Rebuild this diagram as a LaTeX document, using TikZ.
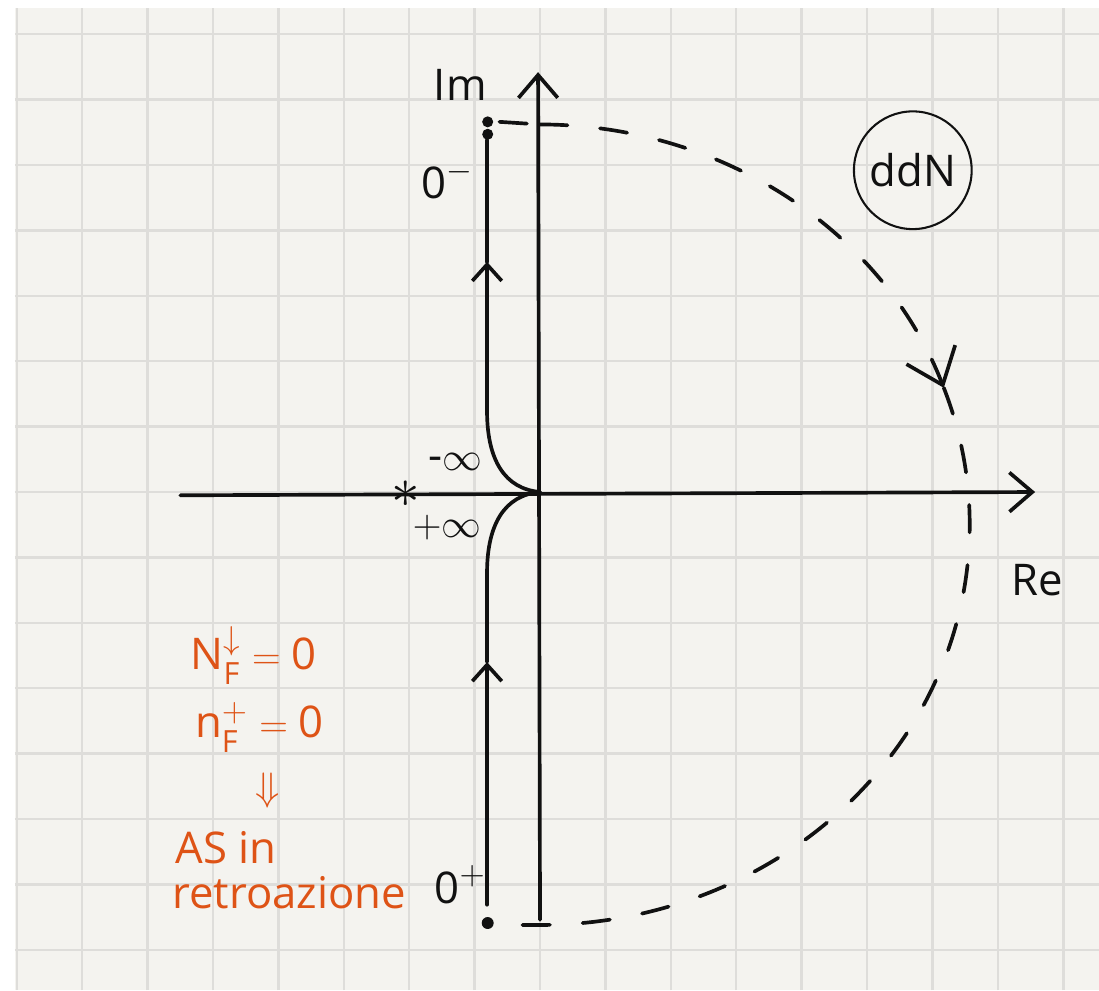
\documentclass[tikz,border=0pt]{standalone}
\usepackage{fontspec}
\setmainfont{Open Sans}
\usepackage{amsmath}
\usepackage{amssymb}
\usetikzlibrary{arrows.meta, calc}
\definecolor{paper}{HTML}{F4F3EF}
\definecolor{gridgrey}{HTML}{DEDDDA}
\definecolor{ink}{HTML}{111111}
\definecolor{rust}{HTML}{DE5316}
\tikzset{
  pen/.style={line width=1.6pt, ink, line cap=round, line join=round},
  dashpen/.style={pen, dash pattern=on 0.42cm off 0.5cm},
  axisarrow/.style={pen, -{Straight Barb[length=3.5mm, width=6mm]}},
  patharrow/.style={pen, -{Straight Barb[length=2.5mm, width=4.5mm]}},
  arcarrow/.style={dashpen, -{Straight Barb[length=5mm, width=8mm]}},
  lbl/.style={font=\fontsize{19}{21}\selectfont, text=ink, inner sep=1pt},
  note/.style={font=\fontsize{19}{21}\selectfont, text=rust, inner sep=0pt},
}

\begin{document}
\begin{tikzpicture}
\useasboundingbox (-8.257,-7.615) rectangle (8.547,7.523);
% squared paper
\fill[paper] (-8.03,-7.615) rectangle (8.547,7.40);
\draw[gridgrey, line width=1.1pt] (-8.03,-7.615) grid (8.547,7.40);

% axes
\coordinate (O) at (0,0);
\coordinate (reL) at (-5.5,-0.05);
\coordinate (reR) at (7.57,0);
\coordinate (imB) at (0,-6.54);
\coordinate (imT) at (-0.03,6.42);
\draw[axisarrow] (reL) -- (reR);
\draw[axisarrow] (imB) -- (imT);
\node[lbl] (imlbl) at (-1.22,6.22) {Im};
\node[lbl] (relbl) at (7.6,-1.35) {Re};

% Nyquist diagram
\coordinate (top) at (-0.81,5.38);
\coordinate (bot) at (-0.81,-6.31);
\coordinate (upA) at (-0.81,3.52);
\coordinate (loA) at (-0.81,-2.6);
\draw[patharrow] (O) .. controls (-0.55,0.05) and (-0.8,0.5) .. (-0.81,1.2) -- (upA);
\draw[pen] (upA) -- (top);
\draw[patharrow] (bot) -- (loA);
\draw[pen] (loA) -- (-0.81,-1.2) .. controls (-0.8,-0.5) and (-0.55,-0.05) .. (O);
\fill[ink] (-0.8,5.47) circle (2.4pt);
\fill[ink] (-0.8,5.66) circle (2.4pt);
\fill[ink] (-0.8,-6.59) circle (2.6pt);

% closure at infinity
\coordinate (arcTop) at (0,5.62);
\coordinate (arcTip) at ($(0,-0.5)+(20:6.57 and 6.12)$);
\coordinate (arcBot) at (0,-6.62);
\draw[dashpen] (-0.62,5.66) -- (arcTop);
\draw[arcarrow] (arcTop) arc[start angle=90, end angle=20, x radius=6.57, y radius=6.12];
\draw[dashpen] (arcTip) arc[start angle=20, end angle=-90, x radius=6.57, y radius=6.12] -- (-0.62,-6.62);

% labels
\node[font=\fontsize{28}{28}\selectfont, text=ink] (pole) at (-2.05,-0.03) {$\ast$};
\node[lbl] (minf) at (-1.3,0.46) {$\text{-}\infty$};
\node[lbl] (pinf) at (-1.42,-0.54) {$+\infty$};
\node[lbl] (zm) at (-1.42,4.77) {$\text{0}^-$};
\node[lbl] (zp) at (-1.22,-6.0) {$\text{0}^+$};
\node[lbl, draw=ink, line width=0.9pt, circle, minimum size=1.8cm] (ddn) at (5.7,4.92) {ddN};

% conclusion
\node[note, anchor=west] (nf) at (-5.35,-2.5) {$\text{N}_{\text{F}}^{\downarrow}=\text{0}$};
\node[note, anchor=west] (nfp) at (-5.28,-3.6) {$\text{n}_{\text{F}}^{+}=\text{0}$};
\node[note] (impl) at (-4.16,-4.56) {$\Downarrow$};
\node[note, anchor=west] (as) at (-5.58,-5.44) {AS in};
\node[note, anchor=west] (retro) at (-5.63,-6.13) {retroazione};
\end{tikzpicture}
\end{document}
